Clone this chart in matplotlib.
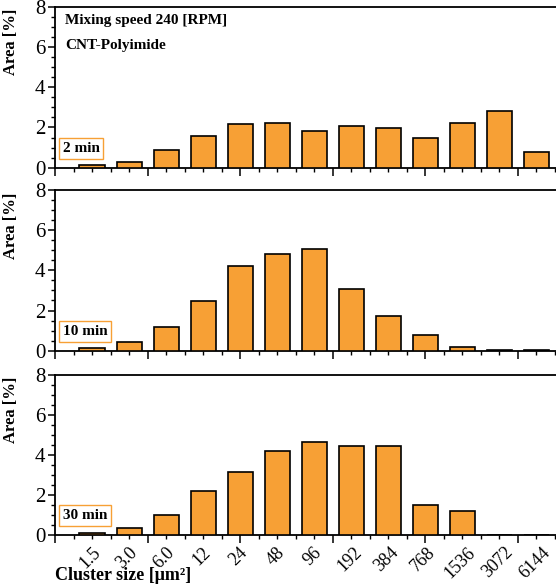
import numpy as np
import matplotlib
matplotlib.use("Agg")
import matplotlib.pyplot as plt
from matplotlib.ticker import MultipleLocator
from matplotlib.transforms import blended_transform_factory

plt.rcParams["font.family"] = ["Liberation Serif", "DejaVu Serif"]

# Cluster size bins [um^2] and area fraction [%] per mixing time
sizes = ["1.5", "3.0", "6.0", "12", "24", "48", "96", "192", "384", "768", "1536", "3072", "6144"]
times = ["2 min", "10 min", "30 min"]
area_2min = [0.12, 0.28, 0.88, 1.57, 2.17, 2.2, 1.8, 2.07, 1.95, 1.5, 2.2, 2.82, 0.77]
area_10min = [0.15, 0.43, 1.19, 2.49, 4.2, 4.81, 5.06, 3.08, 1.71, 0.8, 0.2, 0.02, 0.02]
area_30min = [0.12, 0.37, 1.02, 2.22, 3.17, 4.22, 4.67, 4.47, 4.45, 1.5, 1.2, 0.02, 0.02]
areas = [area_2min, area_10min, area_30min]

bar_color = "#F7A035"
fig = plt.figure(figsize=(5.56, 5.87), dpi=100)

# panel boxes in figure fractions (left, bottom, width, height)
boxes = [(0.099, 0.7143, 0.901, 0.2743),
         (0.099, 0.4026, 0.901, 0.2737),
         (0.099, 0.0886, 0.901, 0.2726)]

x = np.arange(1, len(sizes) + 1)

for i, (box, vals, t) in enumerate(zip(boxes, areas, times)):
    ax = fig.add_axes(box)
    ax.bar(x, vals, width=0.68, color=bar_color, edgecolor="black", linewidth=1.2, zorder=3)
    ax.set_xlim(0, 13.53)
    ax.set_ylim(0, 8)
    ax.spines["right"].set_visible(False)
    for s in ["left", "bottom", "top"]:
        ax.spines[s].set_linewidth(1.3)
    ax.xaxis.set_major_locator(MultipleLocator(2.5))
    ax.xaxis.set_minor_locator(MultipleLocator(0.5))
    ax.yaxis.set_major_locator(MultipleLocator(2))
    ax.yaxis.set_minor_locator(MultipleLocator(0.5))
    ax.set_xticklabels([])
    ax.tick_params(axis="x", which="major", direction="out", length=6, width=1.1)
    ax.tick_params(axis="x", which="minor", direction="out", length=3, width=1.0)
    ax.tick_params(axis="y", which="major", direction="out", length=5, width=1.1, labelsize=15, pad=2)
    ax.tick_params(axis="y", which="minor", direction="out", length=3, width=1.0)
    ax.set_ylabel("Area [%]", fontsize=12, fontweight="bold")
    ax.yaxis.set_label_coords(-0.072, 0.78)

    ax.text(0.015, 0.12, t, transform=ax.transAxes, fontsize=11, fontweight="bold",
            ha="left", va="center",
            bbox=dict(boxstyle="square,pad=0.25", facecolor="white", edgecolor=bar_color, linewidth=1.0))

    if i == 0:
        ax.text(0.02, 0.917, "Mixing speed 240 [RPM]", transform=ax.transAxes,
                fontsize=11, fontweight="bold", ha="left", va="center")
        ax.text(0.02, 0.762, "CNT-Polyimide", transform=ax.transAxes,
                fontsize=11, fontweight="bold", ha="left", va="center")

    if i == 2:
        trans = blended_transform_factory(ax.transData, ax.transAxes)
        for xi, lab in zip(x, sizes):
            ax.text(xi - 0.05, -0.055, lab, transform=trans, rotation=45,
                    ha="center", va="top", fontsize=13)

fig.text(55 / 556, 1 - 576 / 587, "Cluster size [\u03bcm\u00b2]", fontsize=13,
         fontweight="bold", ha="left", va="center")

fig.savefig("out.png", dpi=100)
